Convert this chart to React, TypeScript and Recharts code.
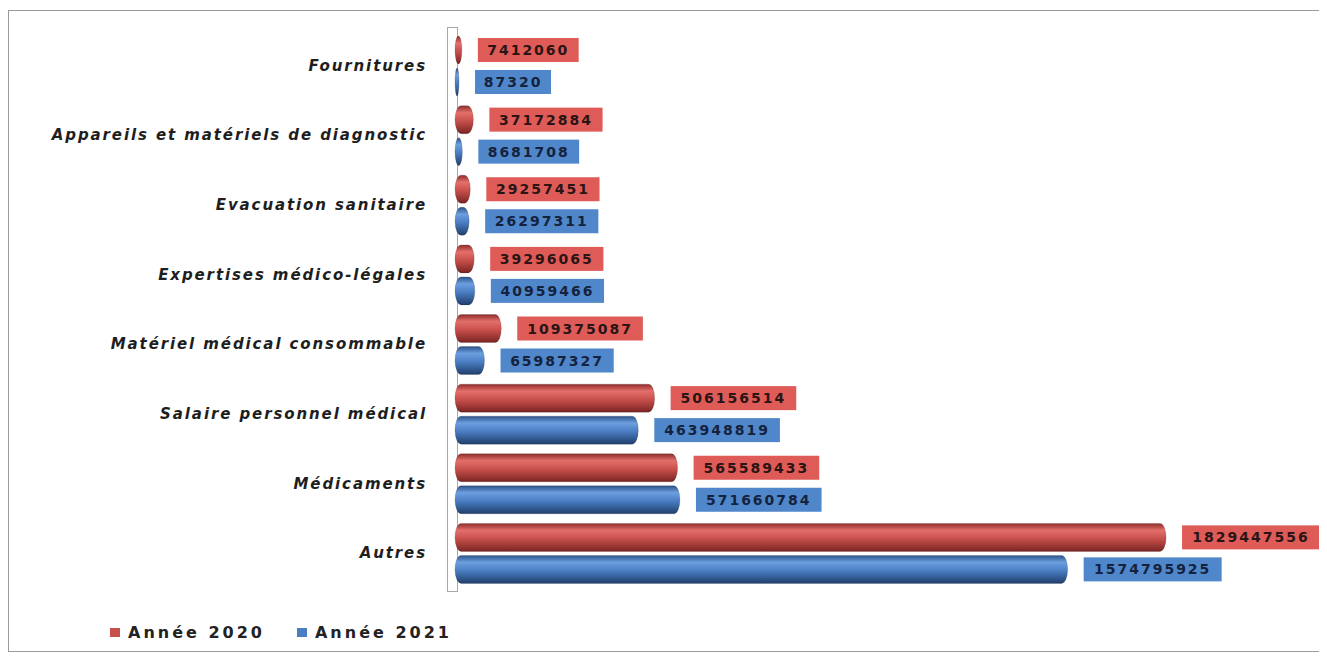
import React from "react";
import { BarChart, Bar, XAxis, YAxis, LabelList } from "recharts";

const categories = [
  "Fournitures",
  "Appareils et matériels de diagnostic",
  "Evacuation sanitaire",
  "Expertises médico-légales",
  "Matériel médical consommable",
  "Salaire personnel médical",
  "Médicaments",
  "Autres",
];
const values2020 = [7412060, 37172884, 29257451, 39296065, 109375087, 506156514, 565589433, 1829447556];
const values2021 = [87320, 8681708, 26297311, 40959466, 65987327, 463948819, 571660784, 1574795925];
const seriesNames = ["Année 2020", "Année 2021"];

const RED = "#c8504c";
const BLUE = "#4a7dc2";
const RED_LABEL = "#de5b58";
const BLUE_LABEL = "#4f87ca";

const chartData = categories.map((c, i) => ({
  category: c,
  y2020: values2020[i],
  y2021: values2021[i],
}));

// cylinder-ish bar: rounded caps + vertical gradient
function CylBar(props: any) {
  const { x, y, width, height, gid } = props;
  const w = Math.max(width, 0);
  const rx = Math.min(6, height / 4);
  return (
    <rect
      x={x}
      y={y}
      width={w + 4}
      height={height}
      rx={rx}
      ry={height / 2}
      fill={`url(#${gid})`}
      stroke="rgba(0,0,0,0.25)"
      strokeWidth={0.6}
    />
  );
}

function makeLabel(bg: string, fg: string) {
  return (props: any) => {
    const { x, y, width, height, value } = props;
    const txt = String(value);
    const tw = txt.length * 12.4 + 14;
    const bx = x + width + 20;
    const cy = y + height / 2;
    return (
      <g>
        <rect x={bx} y={cy - 12} width={tw} height={24} fill={bg} />
        <text
          x={bx + tw / 2}
          y={cy + 5}
          textAnchor="middle"
          fontFamily="DejaVu Sans"
          fontWeight="bold"
          fontSize={14}
          letterSpacing={2}
          fill={fg}
        >
          {txt}
        </text>
      </g>
    );
  };
}

function CatTick(props: any) {
  const { x, y, payload } = props;
  return (
    <text
      x={x}
      y={y + 5}
      textAnchor="end"
      fontFamily="DejaVu Sans"
      fontWeight="bold"
      fontStyle="italic"
      fontSize={15}
      letterSpacing={1.9}
      fill="#1e1e1e"
    >
      {payload.value}
    </text>
  );
}

export default function App() {
  return (
    <div
      style={{
        position: "relative",
        width: 1310,
        height: 640,
        border: "1px solid #9a9a9a",
        marginTop: 2,
        background: "#fff",
      }}
    >
      {/* thin 3D wall behind the bars */}
      <div
        style={{
          position: "absolute",
          left: 438,
          top: 16,
          width: 9,
          height: 563,
          border: "1px solid #a8a8a8",
        }}
      />
      <BarChart
        width={1310}
        height={640}
        data={chartData}
        layout="vertical"
        margin={{ top: 20, right: 91, left: 0, bottom: 63 }}
        barSize={28}
        barGap={4}
      >
        <defs>
          <linearGradient id="gRed" x1="0" y1="0" x2="0" y2="1">
            <stop offset="0%" stopColor="#8e2c2a" />
            <stop offset="25%" stopColor="#e36f6b" />
            <stop offset="55%" stopColor={RED} />
            <stop offset="100%" stopColor="#7a2422" />
          </linearGradient>
          <linearGradient id="gBlue" x1="0" y1="0" x2="0" y2="1">
            <stop offset="0%" stopColor="#2c5288" />
            <stop offset="25%" stopColor="#6c9fe0" />
            <stop offset="55%" stopColor={BLUE} />
            <stop offset="100%" stopColor="#203f6c" />
          </linearGradient>
        </defs>
        <XAxis type="number" domain={[0, 2000000000]} hide />
        <YAxis
          type="category"
          dataKey="category"
          width={446}
          axisLine={false}
          tickLine={false}
          tickSize={0}
          tickMargin={28}
          tick={<CatTick />}
          interval={0}
        />
        <Bar
          dataKey="y2020"
          name={seriesNames[0]}
          fill={RED}
          isAnimationActive={false}
          shape={(p: any) => <CylBar {...p} gid="gRed" />}
        >
          <LabelList dataKey="y2020" content={makeLabel(RED_LABEL, "#2a1414")} />
        </Bar>
        <Bar
          dataKey="y2021"
          name={seriesNames[1]}
          fill={BLUE}
          isAnimationActive={false}
          shape={(p: any) => <CylBar {...p} gid="gBlue" />}
        >
          <LabelList dataKey="y2021" content={makeLabel(BLUE_LABEL, "#15223d")} />
        </Bar>
      </BarChart>
      <div
        style={{
          position: "absolute",
          left: 101,
          top: 612,
          display: "flex",
          alignItems: "center",
          fontFamily: "DejaVu Sans",
          fontWeight: "bold",
          fontSize: 16,
          letterSpacing: 3,
          color: "#222",
        }}
      >
        {seriesNames.map((n, i) => (
          <div key={n} style={{ display: "flex", alignItems: "center", marginRight: 32 }}>
            <span
              style={{
                display: "inline-block",
                width: 10,
                height: 9,
                background: i === 0 ? RED : BLUE,
                marginRight: 8,
              }}
            />
            {n}
          </div>
        ))}
      </div>
    </div>
  );
}
